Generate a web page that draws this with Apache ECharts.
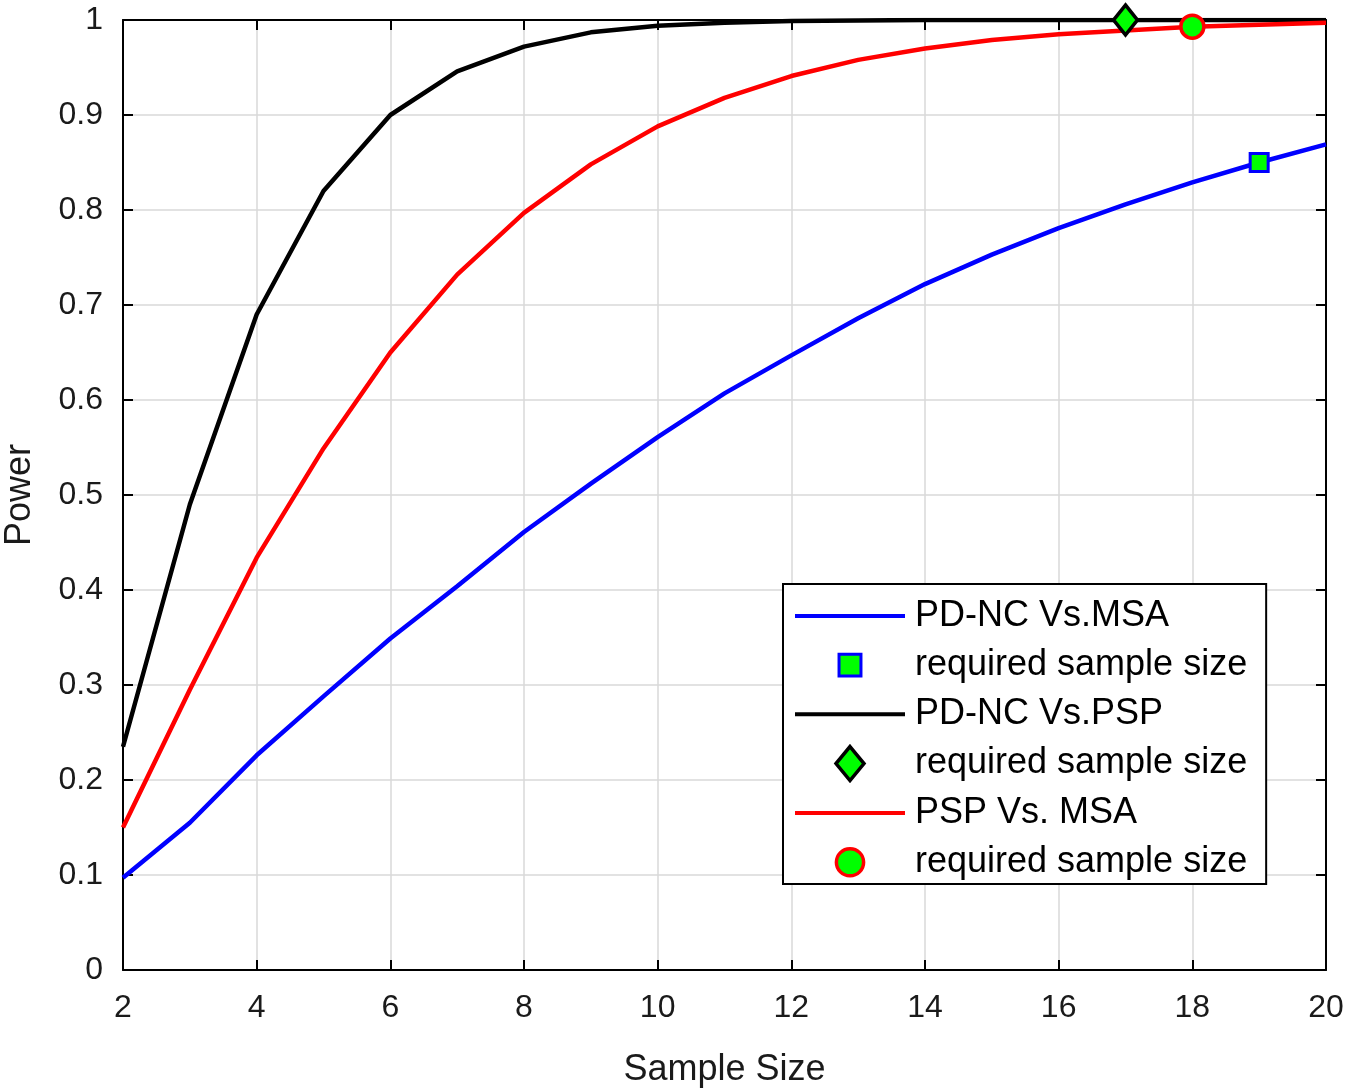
<!DOCTYPE html>
<html lang="en">
<head>
    <meta charset="UTF-8">
    <title>Power vs Sample Size</title>
    <script src="https://cdn.jsdelivr.net/npm/echarts@6/dist/echarts.min.js"></script>
    <style>
        html, body { margin: 0; padding: 0; background: #fff; }
        #main { width: 1350px; height: 1091px; }
    </style>
</head>
<body>
<div id="main"></div>
<script>
    // sample sizes on the x axis
    var sampleSize = [2, 3, 4, 5, 6, 7, 8, 9, 10, 11, 12, 13, 14, 15, 16, 17, 18, 19, 20];

    // power curves
    var pdncMsa = [0.097, 0.155, 0.226, 0.288, 0.349, 0.404, 0.461, 0.512, 0.561, 0.607,
                   0.647, 0.686, 0.722, 0.753, 0.781, 0.806, 0.829, 0.850, 0.869];
    var pdncPsp = [0.235, 0.490, 0.690, 0.820, 0.900, 0.946, 0.972, 0.987, 0.994, 0.997,
                   0.999, 0.9995, 1, 1, 1, 1, 1, 1, 1];
    var pspMsa  = [0.150, 0.295, 0.434, 0.549, 0.650, 0.732, 0.797, 0.848, 0.888, 0.918,
                   0.941, 0.958, 0.970, 0.979, 0.985, 0.989, 0.993, 0.995, 0.997];

    // required sample size markers [x, power]
    var reqMsa = [19, 0.850];
    var reqPsp = [17, 1.000];
    var reqPspMsa = [18, 0.993];

    var xTicks = [2, 4, 6, 8, 10, 12, 14, 16, 18, 20];

    var FONT = 'Arial, "Liberation Sans", sans-serif';
    var TXT = '#1a1a1a';
    var GREEN = '#00ff00';

    // legend swatches; the lone moveTo points pad the box so keepAspect shrinks the shape
    var BAR_ICON = 'path://M0,0H110V4H0Z';
    var SQUARE_ICON = 'path://M-2.75,-2.75M0,0H10V10H0ZM12.75,12.75';
    var DIAMOND_ICON = 'path://M14,0L28,17L14,34L0,17Z';
    var CIRCLE_ICON = 'path://M-3,-3M0,12A12,12,0,1,0,24,12A12,12,0,1,0,0,12ZM27,27';

    function pairs(ys) {
        var out = [];
        for (var i = 0; i < sampleSize.length; i++) out.push([sampleSize[i], ys[i]]);
        return out;
    }

    var myChart = echarts.init(document.getElementById('main'));

    var boxAxisX = {
        type: 'value', min: 2, max: 20, interval: 2,
        axisLine: { show: true, onZero: false, lineStyle: { color: '#000', width: 2 } },
        axisTick: { show: true, inside: true, length: 10, lineStyle: { color: '#000', width: 2 } }
    };
    var boxAxisY = {
        type: 'value', min: 0, max: 1, interval: 0.1,
        axisLine: { show: true, onZero: false, lineStyle: { color: '#000', width: 2 } },
        axisTick: { show: true, inside: true, length: 10, lineStyle: { color: '#000', width: 2 } }
    };

    var option = {
        backgroundColor: '#fff',
        animation: false,
        textStyle: { fontFamily: FONT },
        grid: { left: 123, right: 24, top: 20, bottom: 121, outerBoundsMode: 'none', containLabel: false },
        xAxis: [
            Object.assign({}, boxAxisX, {
                position: 'bottom',
                name: 'Sample Size',
                nameLocation: 'middle',
                nameGap: 82,
                nameTextStyle: { fontSize: 36, color: TXT, fontFamily: FONT },
                axisLabel: {
                    fontSize: 32, color: TXT, margin: 22, fontFamily: FONT,
                    customValues: xTicks
                },
                splitLine: { show: true, lineStyle: { color: '#d9d9d9', width: 1.5 } }
            }),
            Object.assign({}, boxAxisX, {
                position: 'top',
                axisLabel: { show: false },
                splitLine: { show: false }
            })
        ],
        yAxis: [
            Object.assign({}, boxAxisY, {
                position: 'left',
                name: 'Power',
                nameLocation: 'middle',
                nameGap: 85,
                nameTextStyle: { fontSize: 36, color: TXT, fontFamily: FONT },
                axisLabel: {
                    fontSize: 32, color: TXT, margin: 20, fontFamily: FONT,
                    formatter: function (v) { return String(Math.round(v * 10) / 10); }
                },
                splitLine: { show: true, lineStyle: { color: '#d9d9d9', width: 1.5 } }
            }),
            Object.assign({}, boxAxisY, {
                position: 'right',
                axisLabel: { show: false },
                splitLine: { show: false }
            })
        ],
        legend: {
            orient: 'vertical',
            left: 783,
            top: 584,
            padding: [14, 19, 3, 12],
            itemWidth: 110,
            itemHeight: 34,
            itemGap: 12.6,
            backgroundColor: '#fff',
            borderColor: '#000',
            borderWidth: 2,
            selectedMode: false,
            symbolKeepAspect: true,
            textStyle: {
                fontSize: 36, color: '#000', fontFamily: FONT,
                padding: [0, 0, 0, 5]
            },
            formatter: function (name) {
                return name.indexOf('req') === 0 ? 'required sample size' : name;
            },
            data: [
                { name: 'PD-NC Vs.MSA', icon: BAR_ICON, itemStyle: { color: '#0000ff', borderWidth: 0 } },
                { name: 'req1', icon: SQUARE_ICON, itemStyle: { color: GREEN, borderColor: '#0000ff', borderWidth: 3 } },
                { name: 'PD-NC Vs.PSP', icon: BAR_ICON, itemStyle: { color: '#000', borderWidth: 0 } },
                { name: 'req2', icon: DIAMOND_ICON, itemStyle: { color: GREEN, borderColor: '#000', borderWidth: 3.5 } },
                { name: 'PSP Vs. MSA', icon: BAR_ICON, itemStyle: { color: '#ff0000', borderWidth: 0 } },
                { name: 'req3', icon: CIRCLE_ICON, itemStyle: { color: GREEN, borderColor: '#ff0000', borderWidth: 3.5 } }
            ]
        },
        series: [
            {
                name: 'PD-NC Vs.MSA', type: 'line', data: pairs(pdncMsa),
                symbol: 'none', lineStyle: { color: '#0000ff', width: 4.5 }, itemStyle: { color: '#0000ff' }, z: 3
            },
            {
                name: 'PD-NC Vs.PSP', type: 'line', data: pairs(pdncPsp),
                symbol: 'none', lineStyle: { color: '#000', width: 4.5 }, itemStyle: { color: '#000' }, z: 3
            },
            {
                name: 'PSP Vs. MSA', type: 'line', data: pairs(pspMsa),
                symbol: 'none', lineStyle: { color: '#ff0000', width: 4.5 }, itemStyle: { color: '#ff0000' }, z: 3
            },
            {
                name: 'req1', type: 'scatter', data: [reqMsa], clip: false,
                symbol: 'rect', symbolSize: 18,
                itemStyle: { color: GREEN, borderColor: '#0000ff', borderWidth: 3, opacity: 1 }, z: 5
            },
            {
                name: 'req2', type: 'scatter', data: [reqPsp], clip: false,
                symbol: 'diamond', symbolSize: [24, 30],
                itemStyle: { color: GREEN, borderColor: '#000', borderWidth: 3.5, opacity: 1 }, z: 5
            },
            {
                name: 'req3', type: 'scatter', data: [reqPspMsa], clip: false,
                symbol: 'circle', symbolSize: 23,
                itemStyle: { color: GREEN, borderColor: '#ff0000', borderWidth: 3.5, opacity: 1 }, z: 5
            }
        ]
    };

    myChart.setOption(option);
</script>
</body>
</html>
